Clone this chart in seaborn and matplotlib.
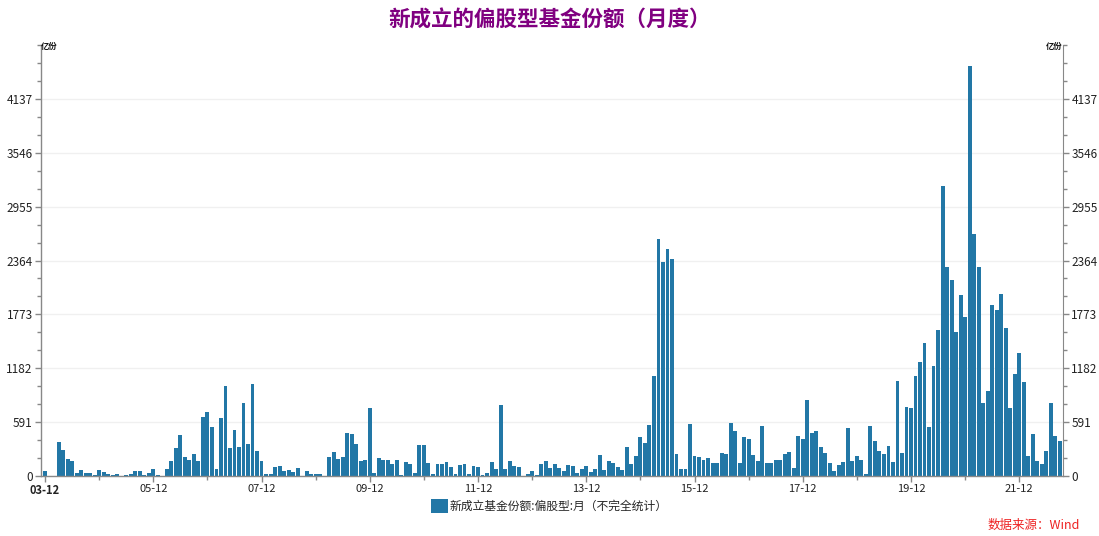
import matplotlib
matplotlib.use("Agg")
import matplotlib.pyplot as plt
from matplotlib.patches import Patch
import numpy as np
import pandas as pd
import seaborn as sns

# Monthly new equity-oriented fund shares (100 million shares), from 2003-12
start_month = "2003-12"
new_shares = [
    59, 0, 0, 378, 290, 191, 169, 37, 70, 37, 37, 15,
    70, 48, 26, 15, 26, 4, 15, 26, 59, 59, 15, 37,
    81, 15, 0, 81, 169, 312, 445, 213, 180, 246, 169, 643,
    698, 533, 81, 632, 985, 312, 500, 323, 797, 356, 1007, 279,
    169, 26, 26, 103, 114, 59, 70, 48, 92, 4, 59, 26,
    26, 26, 0, 213, 268, 191, 213, 467, 456, 356, 169, 180,
    742, 37, 202, 180, 180, 136, 180, 15, 158, 136, 37, 345,
    345, 147, 26, 136, 136, 158, 103, 26, 125, 136, 26, 114,
    103, 15, 37, 158, 81, 775, 81, 169, 114, 103, 4, 26,
    59, 15, 136, 169, 92, 136, 92, 59, 125, 114, 37, 81,
    114, 48, 81, 235, 70, 169, 147, 103, 70, 323, 136, 224,
    423, 367, 555, 1095, 2604, 2351, 2494, 2384, 246, 81, 81, 566,
    224, 213, 180, 202, 147, 147, 257, 246, 577, 489, 147, 423,
    411, 235, 169, 544, 147, 147, 180, 180, 246, 268, 92, 434,
    411, 830, 467, 489, 323, 257, 147, 59, 125, 158, 522, 169,
    224, 180, 26, 544, 389, 279, 246, 334, 158, 1040, 257, 753,
    742, 1095, 1249, 1458, 533, 1205, 1601, 3177, 2295, 2152, 1579, 1987,
    1744, 4500, 2659, 2295, 797, 929, 1877, 1822, 1998, 1623, 742, 1117,
    1348, 1029, 224, 456, 169, 136, 279, 797, 434, 389,
]
y_ticks = [0, 591, 1182, 1773, 2364, 2955, 3546, 4137]
y_max = 4728

title_text = "新成立的偏股型基金份额（月度）"
series_label = "新成立基金份额:偏股型:月（不完全统计）"
unit_text = "亿份"
source_text = "数据来源：Wind"

bar_color = "#2277a6"

months = pd.period_range(start_month, periods=len(new_shares), freq="M")
month_labels = [p.strftime("%y-%m") for p in months]
df = pd.DataFrame({"month": month_labels, "shares": new_shares})

sns.set_style("ticks")
plt.rcParams["font.family"] = ["Noto Sans CJK SC", "DejaVu Sans"]
plt.rcParams["axes.unicode_minus"] = False

W, H = 1099, 536
fig = plt.figure(figsize=(W / 100, H / 100), dpi=100)
left, right, top, bottom = 41, 1063, 45, 476
ax = fig.add_axes([left / W, 1 - bottom / H, (right - left) / W, (bottom - top) / H])

sns.barplot(data=df, x="month", y="shares", color=bar_color, saturation=1,
            width=0.86, ax=ax, linewidth=0)

n = len(new_shares)
ax.set_xlim(-0.9, n - 0.3)
ax.set_ylim(0, y_max)

# x axis: labelled ticks every two years, unlabelled ticks in between
major_x = list(range(0, n, 24))
minor_x = [i for i in range(12, n, 24)]
ax.set_xticks(major_x)
ax.set_xticklabels([month_labels[i] for i in major_x])
ax.set_xticks(minor_x, minor=True)
ax.get_xticklabels()[0].set_fontweight("bold")

# y axis: labelled ticks with finer unlabelled ticks
minor_y = [v for v in np.arange(0, y_max + 1, 197) if v not in y_ticks and v <= y_max]
ax.set_yticks(y_ticks)
ax.set_yticks(minor_y, minor=True)
ax.yaxis.grid(True, which="major", color="#f0f0f0", linewidth=1)
ax.set_axisbelow(True)
ax.set_xlabel("")
ax.set_ylabel("")

spine_color = "#888888"
for side in ["left", "bottom"]:
    ax.spines[side].set_color(spine_color)
    ax.spines[side].set_linewidth(1)
ax.spines["top"].set_visible(False)
ax.spines["right"].set_visible(False)

ax.tick_params(axis="both", which="major", direction="out", length=4, width=1,
               color=spine_color, labelsize=8.5, labelcolor="#222222", pad=2)
ax.tick_params(axis="both", which="minor", direction="out", length=3, width=1,
               color=spine_color)
ax.tick_params(axis="x", labelsize=8)

# mirrored axis on the right with the same scale
ax2 = ax.twinx()
ax2.set_ylim(0, y_max)
ax2.set_yticks(y_ticks)
ax2.set_yticks(minor_y, minor=True)
for side in ["left", "top", "bottom"]:
    ax2.spines[side].set_visible(False)
ax2.spines["right"].set_color(spine_color)
ax2.tick_params(axis="y", which="major", direction="out", length=4, width=1,
                color=spine_color, labelsize=8.5, labelcolor="#222222", pad=2)
ax2.tick_params(axis="y", which="minor", direction="out", length=3, width=1,
                color=spine_color)

# unit labels at the top of each axis
ax.text(0.0, 0.997, unit_text, transform=ax.transAxes, ha="left", va="center",
        fontsize=6, fontweight="bold", color="#111111")
ax.text(1.0, 0.997, unit_text, transform=ax.transAxes, ha="right", va="center",
        fontsize=6, fontweight="bold", color="#111111")

fig.text(0.5, 1 - 20 / H, title_text, ha="center", va="center",
         fontsize=15.5, fontweight="bold", color="#800080")

fig.legend(handles=[Patch(facecolor=bar_color, edgecolor="none", label=series_label)],
           loc="center", bbox_to_anchor=(0.5, 1 - 506 / H), frameon=False,
           fontsize=8.5, handlelength=1.45, handleheight=1.45, handletextpad=0.15)

fig.text(1080 / W, 1 - 525 / H, source_text, ha="right", va="center",
         fontsize=9, style="italic", color="#ee2222")

fig.savefig("out.png", dpi=100)
